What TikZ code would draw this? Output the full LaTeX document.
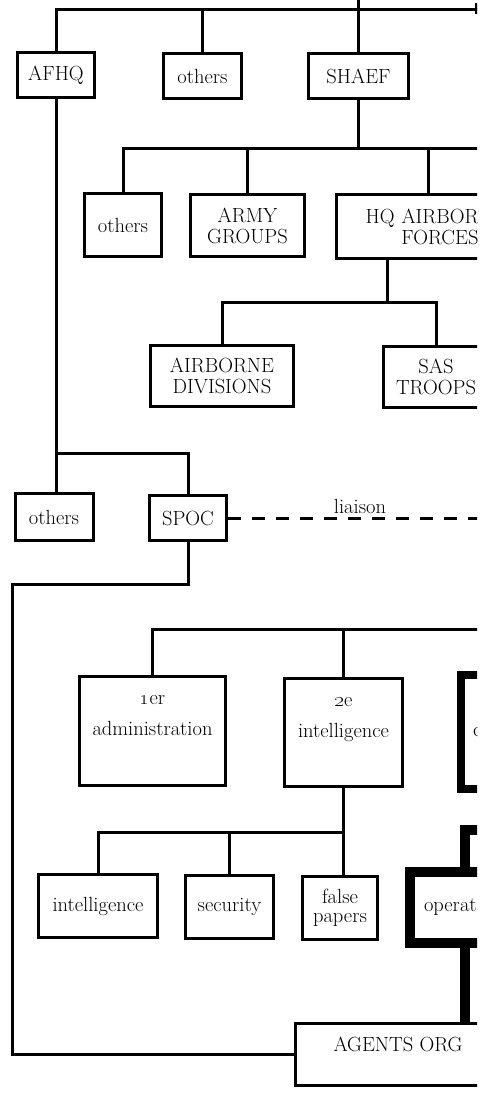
\documentclass[tikz,border=0pt]{standalone}
\usepackage{tikz}

\begin{document}
\begin{tikzpicture}[x=1pt,y=-1pt,
  unit/.style={draw,line width=3pt,inner sep=0pt,align=center,font=\fontsize{20.5}{21}\selectfont},
  lbl/.style={inner sep=0pt,font=\fontsize{20.5}{21}\selectfont},
  link/.style={line width=3pt},
  heavy/.style={line width=10pt},
  liaisonline/.style={line width=3pt,dash pattern=on 13pt off 11pt}]
\useasboundingbox (0,0) rectangle (484,1098);
\clip (0,0) rectangle (477,1098);

%Top level
\node[unit,minimum width=77pt,minimum height=45pt] (afhq) at (56,75) {AFHQ};
\node[unit,minimum width=78pt,minimum height=45pt] (othtop) at (202.5,76) {others};
\node[unit,minimum width=100pt,minimum height=45pt] (shaef) at (358.5,76) {SHAEF};
\coordinate (topend) at (478,9);
\draw[link] (afhq.north) |- (topend);
\draw[link] (othtop.north) -- (othtop.north |- topend);
\draw[link] (shaef.north) -- (shaef.north |- 0,-3);
\draw[link] (topend) ++(-2,-6) -- ++(0,11);

%Under SHAEF
\node[unit,minimum width=77pt,minimum height=63pt] (othmid) at (123,225) {others};
\node[unit,minimum width=114pt,minimum height=62pt] (army) at (247.5,225.5) {ARMY\\GROUPS};
\node[unit,anchor=west,inner xsep=13.5pt,minimum height=64pt,text width=129pt,align=right] (hqab) at (334.5,226.5) {HQ AIRBOR\\FORCES};
\coordinate (bus2) at (480,148);
\coordinate (hqtop) at (428,148);
\draw[link] (shaef.south) -- (shaef.south |- bus2);
\draw[link] (othmid.north) |- (bus2);
\draw[link] (army.north) -- (army.north |- bus2);
\draw[link] (hqtop) -- (hqtop |- hqab.north);

%Under HQ airborne
\node[unit,minimum width=143pt,minimum height=61pt] (abdiv) at (222,376) {AIRBORNE\\DIVISIONS};
\node[unit,minimum width=105pt,minimum height=61pt] (sas) at (436,377) {SAS\\TROOPS};
\coordinate (hqstem) at (387,302);
\draw[link] (hqstem |- hqab.south) -- (hqstem);
\draw[link] (abdiv.north) |- (hqstem) -| (sas.north);

%Under AFHQ
\node[unit,minimum width=78pt,minimum height=47pt] (othlow) at (54,517) {others};
\node[unit,minimum width=77pt,minimum height=45pt] (spoc) at (188,518) {SPOC};
\coordinate (bus4) at (188,453);
\draw[link] (afhq.south) -- (afhq.south |- othlow.north);
\draw[link] (afhq.south |- bus4) -- (bus4) -- (spoc.north);
\draw[liaisonline] (spoc.east) -- (spoc.east -| 480,0);
\node[lbl,anchor=base] (liaisonlbl) at (360,513) {liaison};

%Sections
\node[unit,minimum width=146pt,minimum height=109pt,font=\fontsize{20.5}{31}\selectfont] (first) at (152.5,731) {\oldstylenums{1}er\\administration\\\mbox{}};
\node[unit,minimum width=118pt,minimum height=108pt,font=\fontsize{20.5}{31}\selectfont] (second) at (343.5,732.5) {\oldstylenums{2}e\\intelligence\\\mbox{}};
\node[unit,anchor=west,line width=8pt,inner xsep=12pt,minimum height=114pt] (brk) at (457,732) {c};
\coordinate (bus5) at (480,629);
\draw[link] (first.north) |- (bus5);
\draw[link] (second.north) -- (second.north |- bus5);

%Under 2e
\node[unit,minimum width=119pt,minimum height=63pt] (intel) at (98,906) {intelligence};
\node[unit,minimum width=88pt,minimum height=63pt] (secur) at (229.5,907) {security};
\node[unit,minimum width=75pt,minimum height=63pt,font=\fontsize{20.5}{19}\selectfont] (fpap) at (340,908) {false\\papers};
\coordinate (bus6) at (0,832);
\draw[link] (second.south) -- (second.south |- fpap.north);
\draw[link] (intel.north) |- (second.south |- bus6);
\draw[link] (secur.north) -- (secur.north |- bus6);

%Operations
\node[unit,anchor=west,line width=10pt,inner xsep=14pt,minimum height=71pt] (ops) at (405,907.5) {operat};
\coordinate (opsx) at (465,0);
\coordinate (opsin) at (480,830);

%Agents
\node[unit,anchor=west,inner xsep=38.5pt,minimum height=62pt,align=left] (agents) at (293.5,1054.5) {AGENTS ORG\\\mbox{}};
\draw[heavy] (opsin) -| (ops.north -| opsx);
\draw[heavy] (ops.south -| opsx) -- (agents.north -| opsx);
\coordinate (leftbend) at (12,584);
\draw[link] (spoc.south) |- (leftbend) |- (agents.west);
\end{tikzpicture}
\end{document}
